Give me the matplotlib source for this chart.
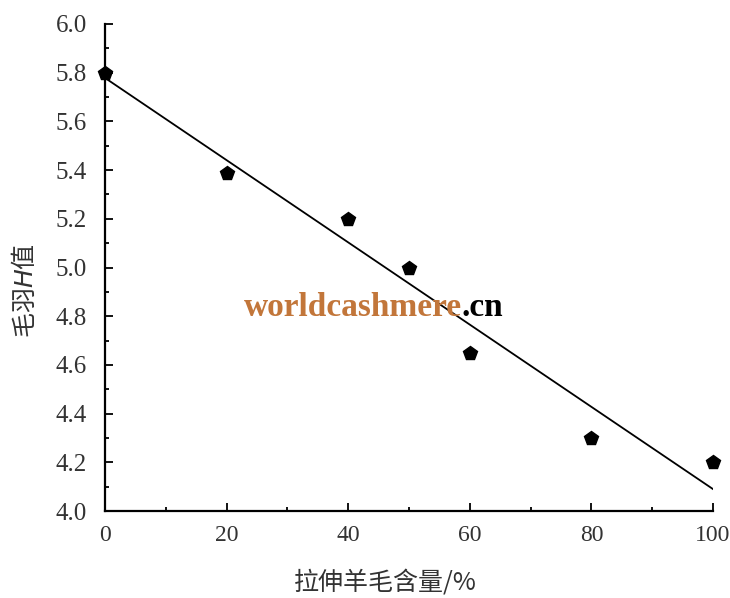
import numpy as np
import matplotlib as mpl
mpl.use('Agg')
import matplotlib.pyplot as plt
import matplotlib.transforms as mtrans
from matplotlib.ticker import MultipleLocator

# 拉伸羊毛含量 (%) vs 毛羽H值
woolPct = [0, 20, 40, 50, 60, 80, 100]
hairH = [5.80, 5.39, 5.20, 5.00, 4.65, 4.30, 4.20]

def figCreate():
    mpl.rcParams['font.family'] = ['Liberation Serif', 'Noto Sans CJK SC']
    mpl.rcParams['font.size'] = 13
    fig = plt.figure(figsize=(7.3, 5.98), dpi=100)
    ax = fig.add_axes([105 / 730, 87 / 598, 608 / 730, 487 / 598])
    return fig, ax

fig, ax = figCreate()

# linear trend line
k, b = np.polyfit(woolPct, hairH, 1)
xs = np.array([0, 100])
ax.plot(xs, k * xs + b, color='black', lw=1.3, zorder=2)
ax.plot(woolPct, hairH, linestyle='none', marker='p', ms=10.5, color='black', zorder=3, clip_on=False)

ax.set_xlim(0, 100)
ax.set_ylim(4.0, 6.0)
ax.xaxis.set_major_locator(MultipleLocator(20))
ax.xaxis.set_minor_locator(MultipleLocator(10))
ax.yaxis.set_major_locator(MultipleLocator(0.2))
ax.yaxis.set_minor_locator(MultipleLocator(0.1))
ax.yaxis.set_major_formatter(mpl.ticker.FormatStrFormatter('%.1f'))
ax.tick_params(which='major', direction='in', length=6, width=1.3, labelsize=18, colors='black')
ax.tick_params(axis='y', which='major', pad=13, labelcolor='#333333')
ax.tick_params(axis='x', which='major', pad=10, labelcolor='#333333', labelsize=17)
ax.tick_params(which='minor', direction='in', length=3, width=1.3)
ax.spines['top'].set_visible(False)
ax.spines['right'].set_visible(False)
for s in ['left', 'bottom']:
    ax.spines[s].set_linewidth(1.6)

# keep the last x label inside the figure
fig.canvas.draw()
lastLab = ax.get_xticklabels()[-1]
lastLab.set_transform(lastLab.get_transform() + mtrans.ScaledTranslation(-6 / 100, 0, fig.dpi_scale_trans))

fig.text(385 / 730, 1 - 582 / 598, '拉伸羊毛含量/%', ha='center', va='center', fontsize=18,
         family=['Noto Sans CJK SC', 'DejaVu Sans'], color='#333333')
fig.text(25 / 730, 1 - 291 / 598, '毛羽$\\mathit{H}$值', ha='center', va='center', fontsize=18,
         rotation=90, family=['Noto Sans CJK SC', 'DejaVu Sans'], color='#333333')

# site watermark
fig.text(462 / 730, 1 - 308 / 598, 'worldcashmere', ha='right', va='center', fontsize=24,
         fontweight='bold', family='Liberation Serif', color='#c2763a')
fig.text(462 / 730, 1 - 308 / 598, '.cn', ha='left', va='center', fontsize=24,
         fontweight='bold', family='Liberation Serif', color='black')

plt.savefig('out.png', dpi=100)
plt.close('all')
